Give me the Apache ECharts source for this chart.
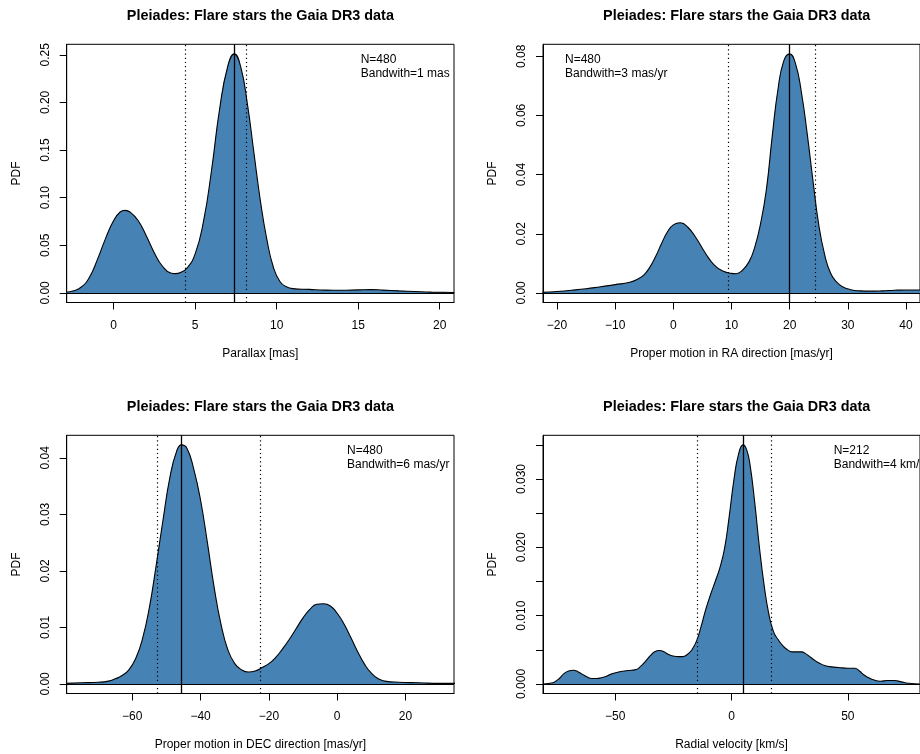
<!DOCTYPE html>
<html>
<head>
<meta charset="utf-8">
<script src="https://cdn.jsdelivr.net/npm/echarts/dist/echarts.min.js"></script>
<style>
  html, body { margin: 0; padding: 0; background: #fff; }
  #chart { width: 920px; height: 754px; }
</style>
</head>
<body>
<div id="chart"></div>
<script>
// Kernel density estimates of the Pleiades flare-star sample (Gaia DR3)

// Parallax [mas]
const parallaxX = [-2.9,-2.5,-2,-1.5,-1,-0.5,0,0.4,0.7,1,1.5,2,2.5,3,3.5,3.8,4.1,4.5,5,5.5,6,6.5,7,7.4,7.8,8.2,8.6,9,9.4,9.8,10.2,10.6,11,12,13,14,15,15.8,16.5,17.5,18.5,19.5,20.9];
const parallaxPdf = [0.0007,0.002,0.006,0.016,0.035,0.057,0.076,0.085,0.0867,0.085,0.076,0.060,0.042,0.028,0.021,0.0203,0.0215,0.026,0.041,0.074,0.128,0.193,0.238,0.251,0.237,0.199,0.148,0.097,0.056,0.027,0.012,0.0065,0.0045,0.0037,0.003,0.0028,0.0032,0.0035,0.003,0.0022,0.0015,0.0009,0.0004];
const parallaxLines = [7.41, 4.37, 8.13];          // centre, lower, upper
const parallaxXTicks = [0, 5, 10, 15, 20];
const parallaxYTicks = [0, 0.05, 0.1, 0.15, 0.2, 0.25];

// Proper motion in RA [mas/yr]
const pmraX = [-22.5,-20,-17.5,-15,-12.5,-10,-7.5,-6,-5,-4,-3,-2,-1,0,1.2,2.5,4,5.5,7,8.5,10,10.8,11.8,13,14,15,16,17,18,19,20,21,22,23,24,25,26,27,28,29,30.5,32,34,36,38,40,42.5];
const pmraPdf = [0.0002,0.0005,0.0009,0.0014,0.0021,0.0028,0.0036,0.0048,0.0062,0.0088,0.0125,0.0168,0.0207,0.0230,0.0237,0.0222,0.0183,0.0135,0.0095,0.0074,0.0066,0.0065,0.0075,0.0105,0.0155,0.0235,0.035,0.053,0.069,0.0785,0.0808,0.0775,0.068,0.054,0.038,0.023,0.013,0.0068,0.0038,0.0022,0.0011,0.0007,0.0006,0.0007,0.0009,0.0010,0.0010];
const pmraLines = [20.0, 9.43, 24.4];
const pmraXTicks = [-20, -10, 0, 10, 20, 30, 40];
const pmraYTicks = [0, 0.02, 0.04, 0.06, 0.08];

// Proper motion in DEC [mas/yr]
const pmdecX = [-79.5,-75,-70,-67,-65,-63,-61,-59,-57,-55,-53,-51,-49,-47,-45.6,-44,-42,-40,-38,-36,-34,-32,-30,-28,-26,-24,-22,-20,-18,-16,-14,-12,-10,-8,-6,-4,-2,0,2,4,6,8,10,12,14,18,24,30,34.5];
const pmdecPdf = [0.0001,0.0002,0.0003,0.0005,0.0009,0.0015,0.0025,0.0045,0.0080,0.0135,0.0210,0.0290,0.0365,0.0412,0.0423,0.0417,0.0380,0.0325,0.0250,0.0170,0.0105,0.0060,0.0036,0.0025,0.0021,0.0023,0.0029,0.0036,0.0047,0.0062,0.0079,0.0098,0.0117,0.0132,0.0141,0.0142,0.0138,0.0125,0.0106,0.0082,0.0057,0.0035,0.0019,0.0009,0.0005,0.0003,0.0002,0.0001,0.0001];
const pmdecLines = [-45.7, -52.6, -22.45];
const pmdecXTicks = [-60, -40, -20, 0, 20];
const pmdecYTicks = [0, 0.01, 0.02, 0.03, 0.04];

// Radial velocity [km/s]
const rvX = [-81,-78,-76,-74,-72,-70,-68,-66,-64,-62,-60,-58,-56,-54,-52,-49,-46,-43,-41,-39,-37,-35,-33,-31,-29,-27,-25,-23,-21,-19,-17,-15,-13,-11,-9,-7,-5,-3,-1,1,3,5,6.5,8,10,12,14,16,18,20,22,24,26,28,30,32,34,36,38,40,43,46,50,53,55,57,59,61,64,67,70,73,76,81];
const rvPdf = [0,0.0001,0.0003,0.0008,0.0015,0.0019,0.0020,0.0018,0.0014,0.0010,0.0008,0.0008,0.0009,0.0011,0.0014,0.0017,0.0019,0.0020,0.0021,0.0026,0.0033,0.0041,0.0047,0.0049,0.0047,0.0043,0.0041,0.0040,0.0040,0.0043,0.0050,0.0063,0.0085,0.0110,0.0131,0.0150,0.0170,0.0198,0.0245,0.0298,0.0336,0.0350,0.0343,0.0320,0.0265,0.0200,0.0145,0.0103,0.0077,0.0065,0.0056,0.0050,0.0047,0.0047,0.0047,0.0044,0.0039,0.0034,0.0030,0.0027,0.0025,0.0024,0.0023,0.0023,0.0019,0.0013,0.0009,0.0006,0.0004,0.0005,0.0005,0.0003,0.0001,0];
const rvLines = [5.0, -14.6, 16.9];
const rvXTicks = [-50, 0, 50];
const rvYTicks = [0, 0.005, 0.01, 0.015, 0.02, 0.025, 0.03, 0.035];
const rvYLabels = [0, 0.01, 0.02, 0.03];

const titleText = 'Pleiades: Flare stars the Gaia DR3 data';
const FONT = '"Liberation Sans", Arial, Helvetica, sans-serif';
const FILL = '#4682B4';

// Panel layout (pixels) and axis settings
const panels = [
  { x: parallaxX, y: parallaxPdf, lines: parallaxLines, xlim: [-2, 20], xTicks: parallaxXTicks,
    yTicks: parallaxYTicks, yLabels: parallaxYTicks, digits: 2,
    left: 66.7, top: 44.3, xName: 'Parallax [mas]',
    note: ['N=480', 'Bandwith=1 mas'], noteX: 360.7 },
  { x: pmraX, y: pmraPdf, lines: pmraLines, xlim: [-20, 40], xTicks: pmraXTicks,
    yTicks: pmraYTicks, yLabels: pmraYTicks, digits: 2,
    left: 543, top: 44.3, xName: 'Proper motion in RA direction [mas/yr]',
    note: ['N=480', 'Bandwith=3 mas/yr'], noteX: 565 },
  { x: pmdecX, y: pmdecPdf, lines: pmdecLines, xlim: [-75, 30], xTicks: pmdecXTicks,
    yTicks: pmdecYTicks, yLabels: pmdecYTicks, digits: 2,
    left: 66.7, top: 435.3, xName: 'Proper motion in DEC direction [mas/yr]',
    note: ['N=480', 'Bandwith=6 mas/yr'], noteX: 347 },
  { x: rvX, y: rvPdf, lines: rvLines, xlim: [-75, 75], xTicks: rvXTicks,
    yTicks: rvYTicks, yLabels: rvYLabels, digits: 3,
    left: 543, top: 435.3, xName: 'Radial velocity [km/s]',
    note: ['N=212', 'Bandwith=4 km/s'], noteX: 833.7 }
];

const W = 387.3, H = 258.2;
const minus = v => String(v).replace('-', '\u2212');

const grids = [], xAxes = [], yAxes = [], series = [], graphics = [];

panels.forEach((p, i) => {
  const span = p.xlim[1] - p.xlim[0];
  const peak = Math.max.apply(null, p.y);
  grids.push({
    left: p.left, top: p.top, width: W, height: H,
    show: true, borderColor: '#000', borderWidth: 1, backgroundColor: 'transparent'
  });
  xAxes.push({
    gridIndex: i, type: 'value',
    min: p.xlim[0] - 0.04 * span, max: p.xlim[1] + 0.04 * span,
    axisLine: { show: true, onZero: false, lineStyle: { color: '#000', width: 1 } },
    axisTick: { show: true, inside: false, length: 7, customValues: p.xTicks, lineStyle: { color: '#000' } },
    axisLabel: { customValues: p.xTicks, formatter: v => minus(v), margin: 17,
      color: '#000', fontSize: 12, fontFamily: FONT },
    splitLine: { show: false },
    name: p.xName, nameLocation: 'middle', nameGap: 45,
    nameTextStyle: { color: '#000', fontSize: 12, fontFamily: FONT }
  });
  yAxes.push({
    gridIndex: i, type: 'value',
    min: -0.04 * peak, max: 1.04 * peak,
    axisLine: { show: true, onZero: false, lineStyle: { color: '#000', width: 1 } },
    axisTick: { show: true, inside: false, length: 7, customValues: p.yTicks, lineStyle: { color: '#000' } },
    axisLabel: { customValues: p.yLabels, rotate: 90, formatter: v => v.toFixed(p.digits), margin: 15,
      color: '#000', fontSize: 12, fontFamily: FONT },
    splitLine: { show: false },
    name: 'PDF', nameLocation: 'middle', nameGap: 44,
    nameTextStyle: { color: '#000', fontSize: 12, fontFamily: FONT }
  });
  const dotted = { type: [1.2, 3], color: '#000', width: 1.2 };
  series.push({
    type: 'line', xAxisIndex: i, yAxisIndex: i,
    data: p.x.map((xv, k) => [xv, p.y[k]]),
    showSymbol: false, smooth: 0.5,
    lineStyle: { color: '#000', width: 1.1 },
    areaStyle: { color: FILL, opacity: 1 },
    markLine: {
      silent: true, symbol: ['none', 'none'], label: { show: false },
      lineStyle: { color: '#000', width: 1, type: 'solid' },
      data: [
        { yAxis: 0 },
        { xAxis: p.lines[0], lineStyle: { color: '#000', width: 1.3, type: 'solid' } },
        { xAxis: p.lines[1], lineStyle: dotted },
        { xAxis: p.lines[2], lineStyle: dotted }
      ]
    }
  });
  graphics.push({
    type: 'text', x: p.left + W / 2, y: p.top - 28.5,
    style: { text: titleText, textAlign: 'center', textVerticalAlign: 'middle',
      font: 'bold 14.4px ' + FONT, fill: '#000' }
  });
  p.note.forEach((t, k) => {
    graphics.push({
      type: 'text', x: p.noteX, y: p.top + 15.2 + k * 14.6,
      style: { text: t, textAlign: 'left', textVerticalAlign: 'middle',
        font: '12px ' + FONT, fill: '#000' }
    });
  });
});

const chart = echarts.init(document.getElementById('chart'), null, { renderer: 'canvas' });
chart.setOption({
  backgroundColor: '#fff',
  animation: false,
  grid: grids,
  xAxis: xAxes,
  yAxis: yAxes,
  series: series,
  graphic: graphics
});
</script>
</body>
</html>
